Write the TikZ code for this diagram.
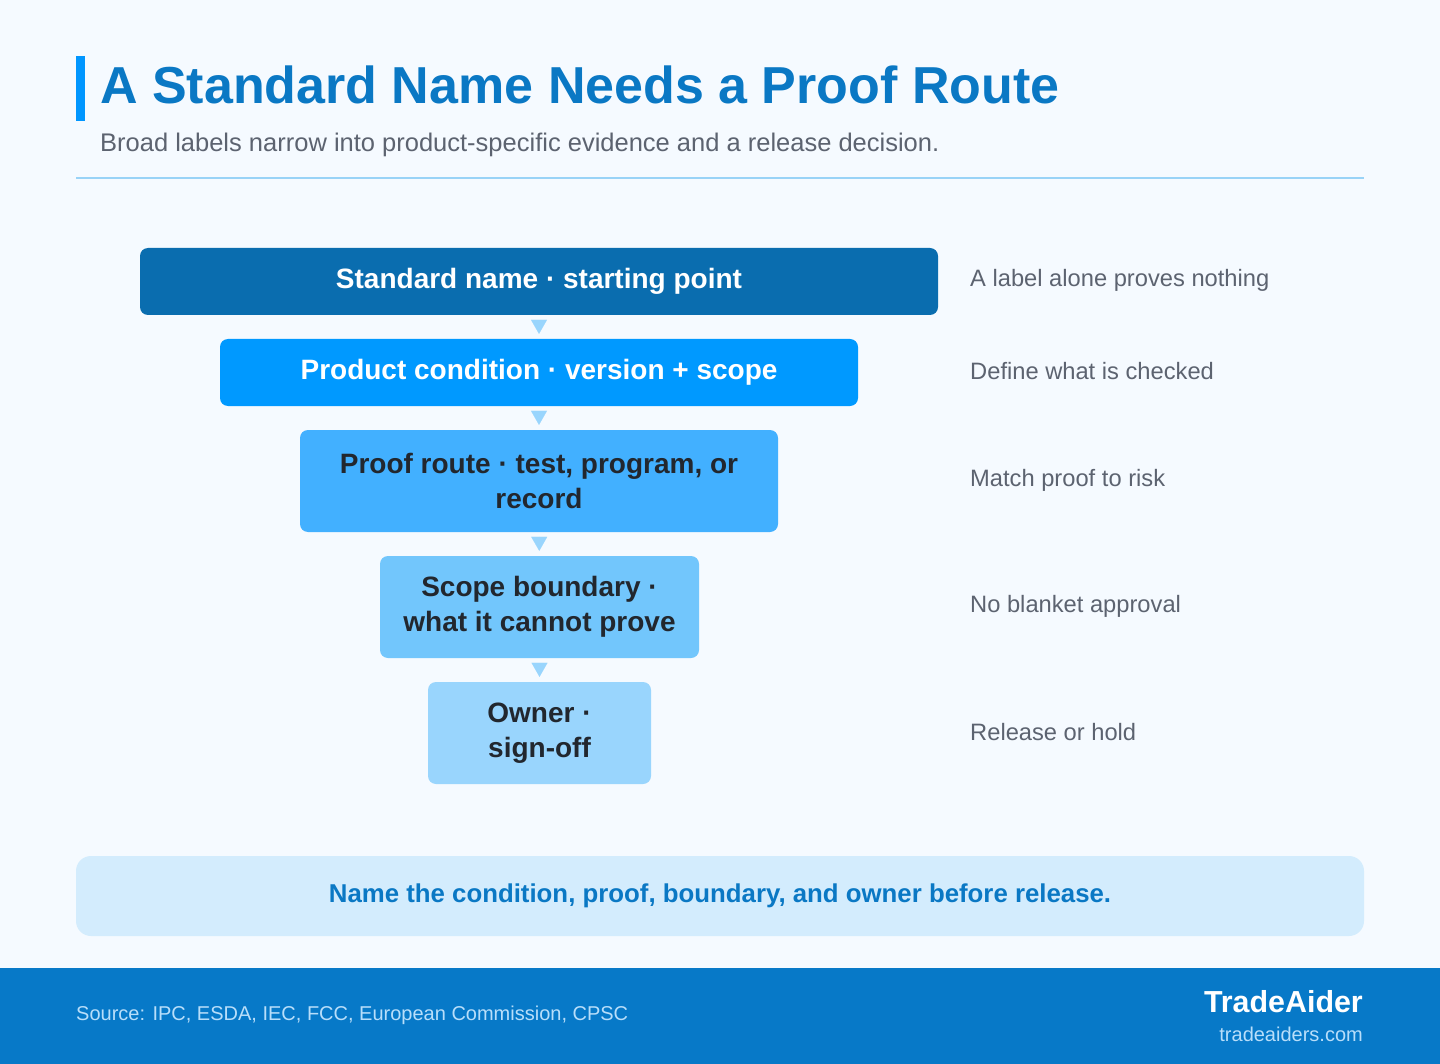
\documentclass[tikz,border=0pt]{standalone}
\usepackage{fontspec}
\setmainfont{Liberation Sans}
\usetikzlibrary{arrows.meta}
\definecolor{page}{HTML}{F5FAFF}
\definecolor{titleblue}{HTML}{0A78C4}
\definecolor{barblue}{HTML}{0096FF}
\definecolor{subgray}{HTML}{5C6370}
\definecolor{rule}{HTML}{99D3F7}
\definecolor{stepA}{HTML}{0A6DAF}
\definecolor{stepB}{HTML}{0099FF}
\definecolor{stepC}{HTML}{42B0FF}
\definecolor{stepD}{HTML}{72C6FC}
\definecolor{stepE}{HTML}{99D5FD}
\definecolor{darkink}{HTML}{22272E}
\definecolor{notefill}{HTML}{D3ECFD}
\definecolor{footer}{HTML}{0779C8}
\definecolor{footink}{HTML}{B8DEFA}

\begin{document}
\begin{tikzpicture}[x=1pt,y=-1pt,
  stage/.style={rounded corners=8pt,inner sep=0pt,align=center,
    font=\bfseries\fontsize{28}{35}\selectfont},
  aside/.style={text=subgray,anchor=west,inner sep=0pt,
    font=\fontsize{23.7}{28}\selectfont},
  flow/.style={draw=stepE,line width=.1pt,shorten <=5pt,shorten >=5pt,
    -{Triangle[length=14pt,width=16pt]}}
]
\useasboundingbox (0,0) rectangle (1440,1064);
\fill[page] (0,0) rectangle (1440,1064);
% heading
\fill[barblue] (76,56) rectangle (85,121);
\node[anchor=base west,inner sep=0pt,text=titleblue,
  font=\bfseries\fontsize{52}{60}\selectfont] (title) at (100,104)
  {A Standard Name Needs a Proof Route};
\node[anchor=base west,inner sep=0pt,text=subgray,
  font=\fontsize{25.5}{30}\selectfont] (subtitle) at (100,152)
  {Broad labels narrow into product-specific evidence and a release decision.};
\draw[rule,line width=2pt] (76,178)--(1364,178);
% funnel
\node[stage,fill=stepA,text=white,minimum width=798pt,minimum height=67pt]
  (name) at (539,281.5) {Standard name · starting point};
\node[stage,fill=stepB,text=white,minimum width=638pt,minimum height=67pt]
  (cond) at (539,372.5) {Product condition · version + scope};
\node[stage,fill=stepC,text=darkink,minimum width=478pt,minimum height=102pt]
  (proof) at (539,481) {Proof route · test, program, or\\record};
\node[stage,fill=stepD,text=darkink,minimum width=319pt,minimum height=102pt]
  (bound) at (539.5,607) {Scope boundary ·\\what it cannot prove};
\node[stage,fill=stepE,text=darkink,minimum width=223pt,minimum height=102pt]
  (owner) at (539.5,733) {Owner ·\\sign-off};
\draw[flow] (name)--(cond);
\draw[flow] (cond)--(proof);
\draw[flow] (proof)--(bound);
\draw[flow] (bound)--(owner);
% side notes
\node[aside] (nameNote) at (970,280) {A label alone proves nothing};
\node[aside] (condNote) at (970,371) {Define what is checked};
\node[aside] (proofNote) at (970,480) {Match proof to risk};
\node[aside] (boundNote) at (970,606) {No blanket approval};
\node[aside] (ownerNote) at (970,732) {Release or hold};
% takeaway
\node[fill=notefill,rounded corners=15pt,minimum width=1288pt,minimum height=80pt,
  inner sep=0pt,text=titleblue,font=\bfseries\fontsize{25.8}{30}\selectfont]
  (takeaway) at (720,896)
  {Name the condition, proof, boundary, and owner before release.};
% footer
\fill[footer] (0,968) rectangle (1440,1064);
\node[anchor=west,inner sep=0pt,text=footink,font=\fontsize{20}{24}\selectfont]
  (source) at (76,1015) {Source: IPC, ESDA, IEC, FCC, European Commission, CPSC};
\node[anchor=east,inner sep=0pt,text=white,font=\bfseries\fontsize{30.4}{34}\selectfont]
  (brand) at (1363,1002) {TradeAider};
\node[anchor=east,inner sep=0pt,text=footink,font=\fontsize{20}{24}\selectfont]
  (site) at (1363,1034) {tradeaiders.com};
\end{tikzpicture}
\end{document}
